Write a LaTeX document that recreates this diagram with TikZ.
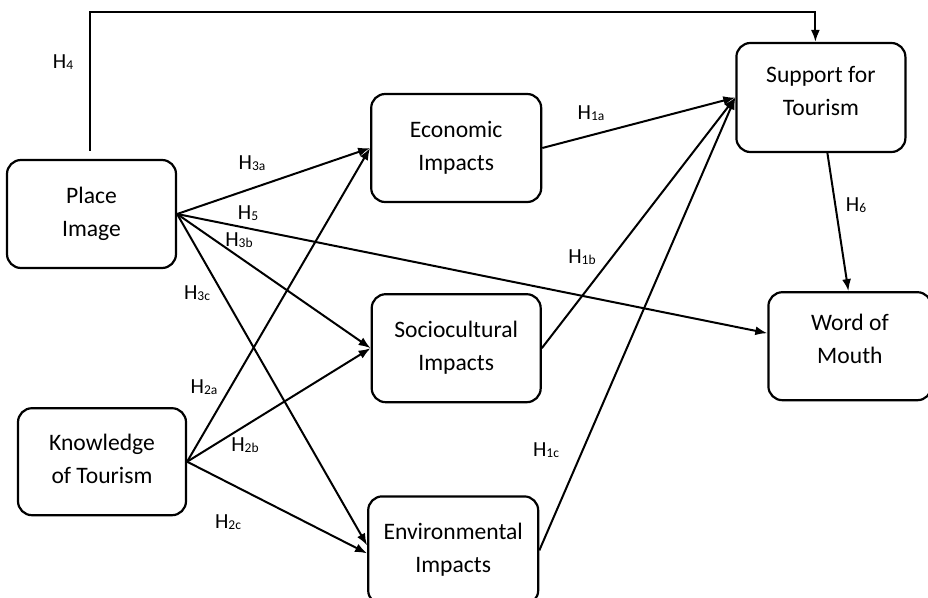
\documentclass[tikz,border=0pt]{standalone}
\usepackage{fontspec}
\setmainfont{Carlito}
\usetikzlibrary{positioning,calc,arrows.meta}
\newcommand{\hsub}[1]{H{\fontsize{13.5}{13.5}\selectfont\raisebox{-1pt}{#1}}}

\begin{document}
\begin{tikzpicture}[x=1pt,y=1pt,line width=2pt,>={Latex[length=12pt,width=9pt]},
  construct/.style={rectangle, rounded corners=14pt, draw, line width=2.2pt, align=center, minimum width=169pt, minimum height=108pt, inner sep=0pt, text depth=5pt, font=\fontsize{23.6}{33}\selectfont},
  hyp/.style={font=\fontsize{21.5}{24}\selectfont, inner sep=0pt}]
  \useasboundingbox (0,0) rectangle (928,-597);

  \node [construct] (place) at (91.5,-214) {Place\\Image};
  \node [construct, minimum width=170pt, right=193pt of place.east, anchor=west, yshift=66pt] (econ)
    {Economic\\Impacts};
  \node [construct, below=90pt of econ] (socio) {Sociocultural\\Impacts};
  \node [construct, minimum width=170pt, below=92pt of socio, xshift=-3pt] (env) {Environmental\\Impacts};
  \node [construct, minimum width=168pt, minimum height=107pt, below=138pt of place, xshift=10.5pt] (know)
    {Knowledge\\of Tourism};
  \node [construct, minimum height=109pt, text depth=14pt, right=193pt of econ.east, anchor=west, yshift=50.5pt] (support)
    {Support for\\Tourism};
  \node [construct, minimum width=163pt, text depth=14pt, below=138pt of support, xshift=29pt] (wom) {Word of\\Mouth};

  % HIPOTESIS
  \draw[->] ([shift={(-1.5pt,8pt)}]place.north) -- ++(0,139) -| ([xshift=-5.5pt]support.north);
  \draw[->] (place.east) -- (econ.west);
  \draw[->] (place.east) -- (socio.west);
  \draw[->] (place.east) -- ([yshift=5pt]env.west);
  \draw[->] (place.east) -- ([yshift=13pt]wom.west);
  \draw[->] (know.east) -- (econ.west);
  \draw[->] (know.east) -- (socio.west);
  \draw[->] (know.east) -- ([yshift=-3pt]env.west);
  \draw[->] (econ.east) -- (support.west);
  \draw[->] (socio.east) -- (support.west);
  \draw[->] (env.east) -- (support.west);
  \draw[->] ([xshift=6.5pt]support.south) -- ([xshift=-1.5pt]wom.north);

  % ETIQUETAS
  \node [hyp] (h4) at (63,-62) {\hsub{4}};
  \node [hyp] (h3a) at (252,-163) {\hsub{3a}};
  \node [hyp] (h5) at (248,-213) {\hsub{5}};
  \node [hyp] (h3b) at (239,-240) {\hsub{3b}};
  \node [hyp] (h3c) at (197,-293) {\hsub{3c}};
  \node [hyp] (h1a) at (591,-113) {\hsub{1a}};
  \node [hyp] (h1b) at (582,-257) {\hsub{1b}};
  \node [hyp] (h6) at (856,-205) {\hsub{6}};
  \node [hyp] (h2a) at (204,-387) {\hsub{2a}};
  \node [hyp] (h2b) at (245,-445) {\hsub{2b}};
  \node [hyp] (h2c) at (228,-522) {\hsub{2c}};
  \node [hyp] (h1c) at (546,-450) {\hsub{1c}};
\end{tikzpicture}
\end{document}
